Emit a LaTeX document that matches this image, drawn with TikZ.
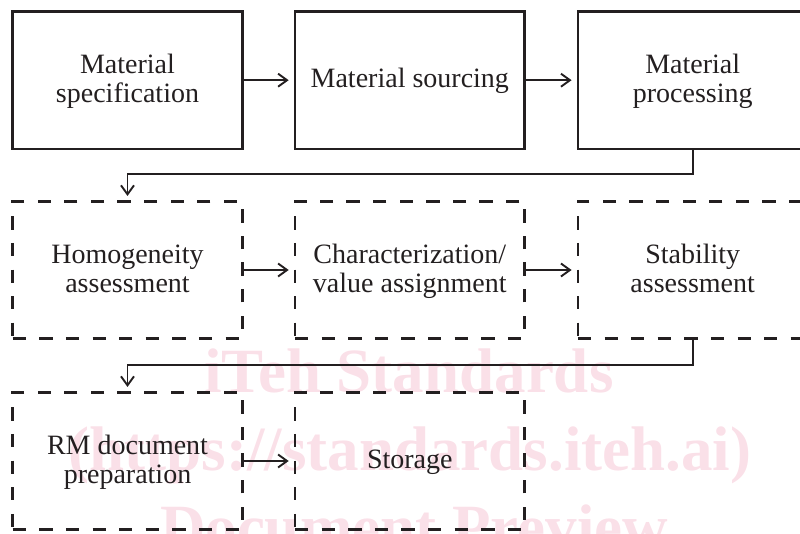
\documentclass[tikz,border=0pt]{standalone}
\usepackage{fontspec}
\setmainfont{Liberation Serif}
\usetikzlibrary{arrows.meta}
\definecolor{ink}{RGB}{35,31,32}
\definecolor{wmpink}{RGB}{250,224,232}
\newcommand\lnst{\rule[-6.5pt]{0pt}{28.5pt}}
\begin{document}
\begin{tikzpicture}[x=1pt,y=-1pt,
  box/.style={draw=ink, line width=2.6pt, minimum width=229.6pt, minimum height=137.5pt,
    inner sep=0pt, align=center, text=ink, font=\fontsize{28}{29}\selectfont},
  dbox/.style={box, dash pattern=on 13.3pt off 13.3pt},
  conn/.style={draw=ink, line width=1.9pt, -{Straight Barb[length=9pt,width=13pt]}, shorten >=5pt},
  wm/.style={text=wmpink, font=\bfseries\fontsize{63}{63}\selectfont, anchor=base, inner sep=0pt}]
\path[use as bounding box, clip] (0,0) rectangle (800,534);
% watermark
\node[wm] (wm1) at (409,392) {iTeh Standards};
\node[wm] (wm2) at (410,470) {(https://standards.iteh.ai)};
\node[wm] (wm3) at (414,548) {Document Preview};
% row 1
\node[box] (b1) at (127.5,80.2) {\lnst Material\\\lnst specification};
\node[box] (b2) at (409.8,80.2) {\lnst Material sourcing};
\node[box] (b3) at (692.7,80.2) {\lnst Material\\\lnst processing};
% row 2
\node[dbox] (b4) at (127.5,270) {\lnst Homogeneity\\\lnst assessment};
\node[dbox] (b5) at (409.8,270) {\lnst Characterization/\\\lnst value assignment};
\node[dbox] (b6) at (692.7,270) {\lnst Stability\\\lnst assessment};
% row 3
\node[dbox] (b7) at (127.5,461) {\lnst RM document\\\lnst preparation};
\node[dbox] (b8) at (409.8,461) {\lnst Storage};
% connectors
\draw[conn] (b1) -- (b2);
\draw[conn] (b2) -- (b3);
\draw[conn] (b4) -- (b5);
\draw[conn] (b5) -- (b6);
\draw[conn] (b7) -- (b8);
\draw[conn, shorten >=4pt] (b3.south) -- ++(0,24.1) -| (b4.north);
\draw[conn, shorten >=4pt] (b6.south) -- ++(0,25.1) -| (b7.north);
\end{tikzpicture}
\end{document}
